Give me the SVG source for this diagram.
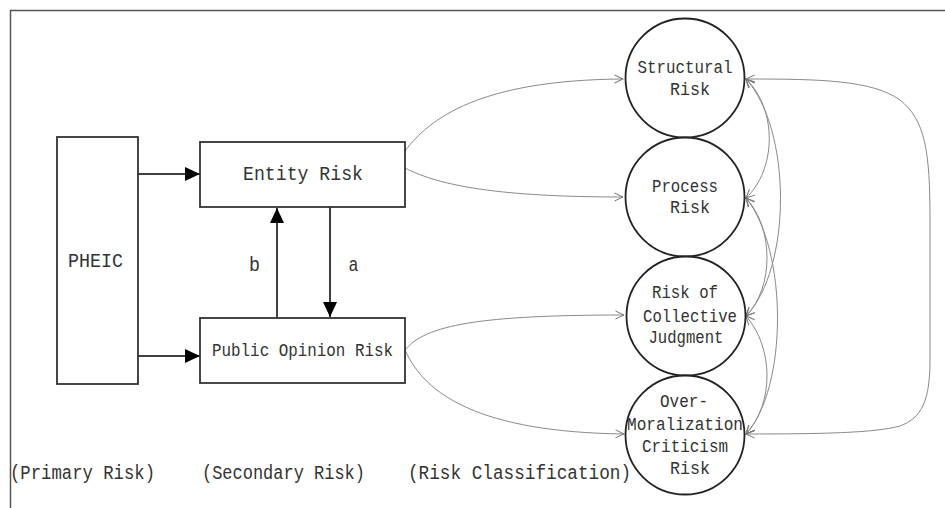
<svg xmlns="http://www.w3.org/2000/svg" width="945" height="508" viewBox="0 0 945 508">
  <style>
    .box { fill: #fff; stroke: #333; stroke-width: 1.8; }
    .circ { fill: #fff; stroke: #222; stroke-width: 1.8; }
    .t { font-family: "Liberation Mono", "DejaVu Sans Mono", monospace; fill: #333; }
    .ct { font-size: 19px; text-anchor: middle; }
    .lb { font-size: 20.5px; }
    .solid { stroke: #000; stroke-width: 1.5; fill: none; marker-end: url(#fillArrow); }
    .thin { stroke: #8a8a8a; stroke-width: 1; fill: none; marker-end: url(#openArrow); }
    .both { marker-start: url(#openArrow); }
  </style>
  <defs>
    <marker id="fillArrow" markerUnits="userSpaceOnUse" viewBox="0 0 15 14" markerWidth="15" markerHeight="14" refX="15" refY="7" orient="auto">
      <path d="M0,0 L15,7 L0,14 Z" fill="#000"/>
    </marker>
    <marker id="openArrow" markerUnits="userSpaceOnUse" viewBox="0 0 10 10" markerWidth="10" markerHeight="10" refX="9" refY="5" orient="auto-start-reverse">
      <path d="M0.5,1 L9,5 L0.5,9" fill="none" stroke="#777" stroke-width="1"/>
    </marker>
  </defs>

  <rect width="945" height="508" fill="#fff"/>
  <path d="M10.5,508 V10.5 H945" fill="none" stroke="#555" stroke-width="1.5"/>

  <g id="connectors">
    <line class="solid" x1="138" y1="174" x2="200" y2="174"/>
    <line class="solid" x1="138" y1="356" x2="200" y2="356"/>
    <line class="solid" x1="277" y1="318" x2="277" y2="208"/>
    <line class="solid" x1="330" y1="207" x2="330" y2="317"/>
    <text class="t" x="254.5" y="271" font-size="20" text-anchor="middle" textLength="11" lengthAdjust="spacingAndGlyphs">b</text>
    <text class="t" x="353.5" y="271" font-size="20" text-anchor="middle" textLength="10" lengthAdjust="spacingAndGlyphs">a</text>

    <path class="thin" d="M405,151 C430,118 480,80 623,79"/>
    <path class="thin" d="M405,168 C440,186 500,197 623,197"/>
    <path class="thin" d="M405,350 C425,325 480,315 624,315"/>
    <path class="thin" d="M405,350 C425,395 480,432 624,434"/>

    <path class="thin both" d="M746,79 C820,79 872,80 900,100 C925,120 930,150 930,220 L930,360 C930,400 922,418 900,426 C875,433 820,434 746,434"/>
    <path class="thin both" d="M746,79 C778,110 776,170 746,198"/>
    <path class="thin both" d="M746,79 C792,130 792,268 746,316"/>
    <path class="thin both" d="M746,198 C774,228 774,288 746,316"/>
    <path class="thin both" d="M746,198 C788,250 788,388 746,434"/>
    <path class="thin both" d="M746,316 C774,348 774,404 746,434"/>
  </g>

  <g id="pheic">
    <rect class="box" x="57" y="137" width="81" height="247"/>
    <text class="t" x="95.5" y="267" font-size="21" text-anchor="middle" textLength="55" lengthAdjust="spacingAndGlyphs">PHEIC</text>
  </g>
  <g id="entity-risk">
    <rect class="box" x="200" y="142" width="205" height="65"/>
    <text class="t" x="303" y="180" font-size="21" text-anchor="middle" textLength="120" lengthAdjust="spacingAndGlyphs">Entity Risk</text>
  </g>
  <g id="public-opinion-risk">
    <rect class="box" x="200" y="318" width="205" height="65"/>
    <text class="t" x="302.5" y="356" font-size="19" text-anchor="middle" textLength="181" lengthAdjust="spacingAndGlyphs">Public Opinion Risk</text>
  </g>

  <g id="structural-risk">
    <circle class="circ" cx="685" cy="78" r="59.5"/>
    <text class="t ct" x="685" y="73" textLength="95" lengthAdjust="spacingAndGlyphs">Structural</text>
    <text class="t ct" x="690" y="95" textLength="40" lengthAdjust="spacingAndGlyphs">Risk</text>
  </g>
  <g id="process-risk">
    <circle class="circ" cx="685" cy="197" r="59.5"/>
    <text class="t ct" x="685" y="192" textLength="66" lengthAdjust="spacingAndGlyphs">Process</text>
    <text class="t ct" x="690" y="213" textLength="40" lengthAdjust="spacingAndGlyphs">Risk</text>
  </g>
  <g id="collective-judgment">
    <circle class="circ" cx="686" cy="316" r="59.5"/>
    <text class="t ct" x="685" y="298" textLength="66" lengthAdjust="spacingAndGlyphs">Risk of</text>
    <text class="t ct" x="690" y="322" textLength="94" lengthAdjust="spacingAndGlyphs">Collective</text>
    <text class="t ct" x="686" y="343" textLength="75" lengthAdjust="spacingAndGlyphs">Judgment</text>
  </g>
  <g id="over-moralization">
    <circle class="circ" cx="685" cy="435" r="59.5"/>
    <text class="t ct" x="684" y="407" textLength="48" lengthAdjust="spacingAndGlyphs">Over-</text>
    <text class="t ct" x="685" y="430" textLength="116" lengthAdjust="spacingAndGlyphs">Moralization</text>
    <text class="t ct" x="685" y="452" textLength="86" lengthAdjust="spacingAndGlyphs">Criticism</text>
    <text class="t ct" x="690" y="474" textLength="40" lengthAdjust="spacingAndGlyphs">Risk</text>
  </g>

  <g id="labels">
    <text class="t lb" x="10" y="479" textLength="145" lengthAdjust="spacingAndGlyphs">(Primary Risk)</text>
    <text class="t lb" x="202" y="479" textLength="163" lengthAdjust="spacingAndGlyphs">(Secondary Risk)</text>
    <text class="t lb" x="408" y="479" textLength="223" lengthAdjust="spacingAndGlyphs">(Risk Classification)</text>
  </g>
</svg>
